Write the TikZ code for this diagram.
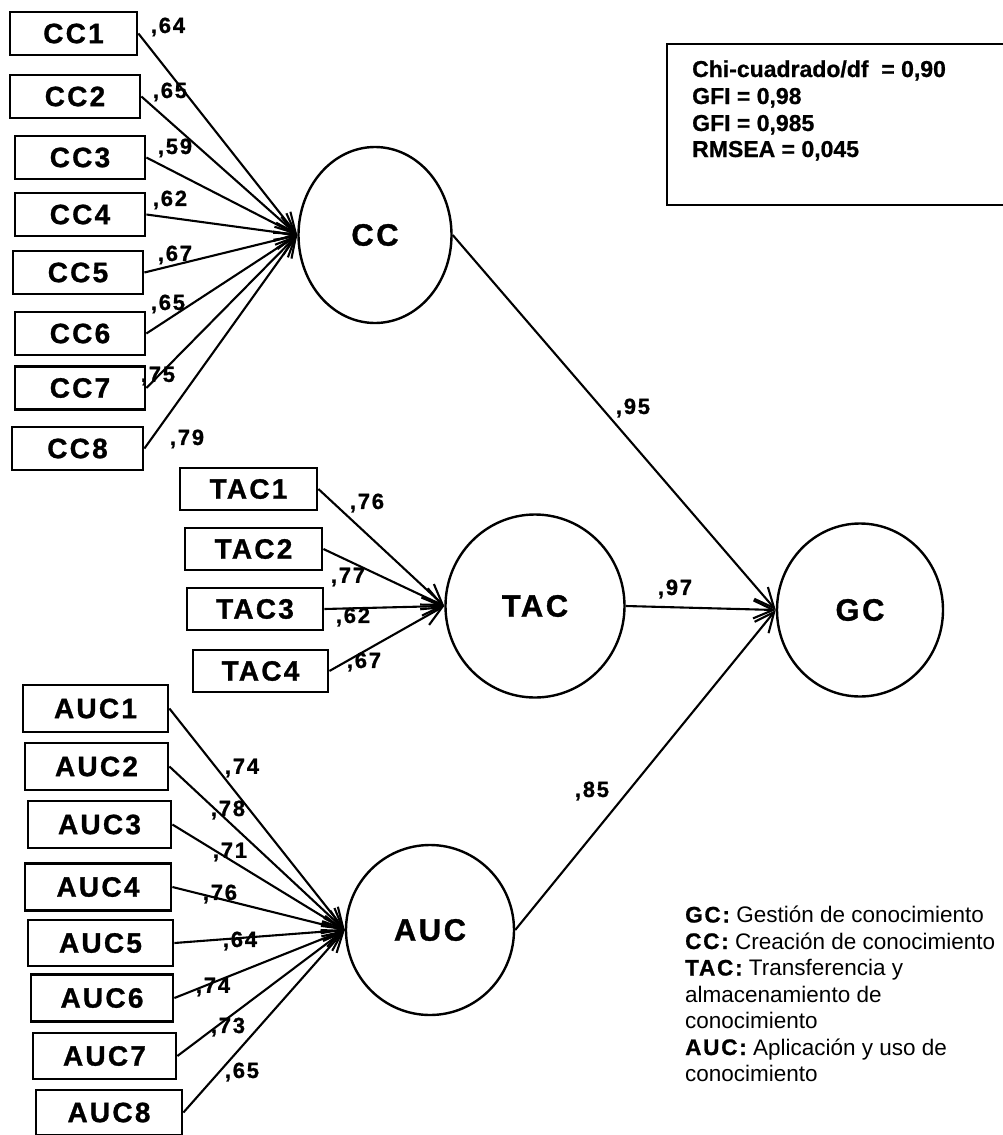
\documentclass[tikz,border=0pt]{standalone}
\usepackage{fontspec}
\setmainfont{Liberation Sans}[BoldFeatures={FakeBold=0.8}]
\newfontfamily\spacedfont{Liberation Sans}[LetterSpace=8,BoldFeatures={FakeBold=1.0}]
\usetikzlibrary{arrows.meta,shapes.geometric}
\begin{document}
\begin{tikzpicture}[x=1pt,y=-1pt,
  ind/.style={draw,line width=2.8pt,minimum height=43pt,inner sep=0pt,
    font=\spacedfont\bfseries\fontsize{28}{30}\selectfont},
  lat/.style={draw,ellipse,line width=2.4pt,inner sep=0pt,
    font=\spacedfont\bfseries\fontsize{31}{33}\selectfont},
  load/.style={inner sep=0pt,font=\spacedfont\bfseries\fontsize{22}{24}\selectfont},
  arr/.style={line width=2.1pt,-{Straight Barb[length=20pt,width=18pt]}},
  stat/.style={inner sep=0pt,anchor=base west,font=\bfseries\fontsize{23}{25}\selectfont},
  leg/.style={inner sep=0pt,anchor=base west,font=\fontsize{22.5}{25}\selectfont}]
\useasboundingbox (0,0) rectangle (1003,1135);

% latent variables
\node[lat,minimum width=153pt,minimum height=176pt] (CC) at (375,235) {CC};
\node[lat,minimum width=179pt,minimum height=183pt] (TAC) at (535,606) {TAC};
\node[lat,minimum width=168pt,minimum height=170pt] (AUC) at (430,930) {AUC};
\node[lat,minimum width=166pt,minimum height=173pt] (GC) at (860,610) {GC};

% CC indicators
\node[ind,minimum width=127pt] (cc1) at (73.5,33.5) {CC1};
\node[ind,minimum width=130pt] (cc2) at (75,96.5) {CC2};
\node[ind,minimum width=130pt] (cc3) at (80,157.5) {CC3};
\node[ind,minimum width=130pt] (cc4) at (80,214.5) {CC4};
\node[ind,minimum width=130pt] (cc5) at (78,272.5) {CC5};
\node[ind,minimum width=130pt] (cc6) at (80,333.5) {CC6};
\node[ind,minimum width=130pt] (cc7) at (80,388) {CC7};
\node[ind,minimum width=131pt] (cc8) at (77.5,448.5) {CC8};

% TAC indicators
\node[ind,minimum width=137pt,minimum height=42pt] (tac1) at (248.5,489) {TAC1};
\node[ind,minimum width=137pt,minimum height=42pt] (tac2) at (253.5,549) {TAC2};
\node[ind,minimum width=136pt,minimum height=42pt] (tac3) at (255,609) {TAC3};
\node[ind,minimum width=135pt,minimum height=42pt] (tac4) at (260.5,671) {TAC4};

% AUC indicators
\node[ind,minimum width=145pt,minimum height=47pt] (auc1) at (95.5,708.5) {AUC1};
\node[ind,minimum width=143pt,minimum height=47pt] (auc2) at (96.5,766.5) {AUC2};
\node[ind,minimum width=143pt,minimum height=47pt] (auc3) at (99.5,824.5) {AUC3};
\node[ind,minimum width=146pt,minimum height=47pt] (auc4) at (98,887) {AUC4};
\node[ind,minimum width=145pt,minimum height=46pt] (auc5) at (100.5,943) {AUC5};
\node[ind,minimum width=142pt,minimum height=47pt] (auc6) at (102,998) {AUC6};
\node[ind,minimum width=143pt,minimum height=46pt] (auc7) at (104.5,1056) {AUC7};
\node[ind,minimum width=146pt,minimum height=45pt] (auc8) at (109,1112.5) {AUC8};

% arrows into latent variables
\foreach \i in {1,...,8} \draw[arr] (cc\i.east) -- (CC.west);
\foreach \i in {1,...,4} \draw[arr] (tac\i.east) -- (TAC.west);
\foreach \i in {1,...,8} \draw[arr] (auc\i.east) -- (AUC.west);

% structural paths
\draw[arr] (CC.east) -- (GC.west);
\draw[arr] (TAC.east) -- (GC.west);
\draw[arr] (AUC.east) -- (GC.west);

% loadings
\node[load] (l1) at (168,27) {,64};
\node[load] (l2) at (170,92) {,65};
\node[load] (l3) at (175,148) {,59};
\node[load] (l4) at (170,200) {,62};
\node[load] (l5) at (175,255) {,67};
\node[load] (l6) at (168,304) {,65};
\node[load] (l7) at (158,376) {,75};
\node[load] (l8) at (187,439) {,79};
\node[load] (t1) at (367,503) {,76};
\node[load] (t2) at (348,577) {,77};
\node[load] (t3) at (353,617) {,62};
\node[load] (t4) at (364,662) {,67};
\node[load] (a1) at (242,768) {,74};
\node[load] (a2) at (228,810) {,78};
\node[load] (a3) at (230,852) {,71};
\node[load] (a4) at (220,894) {,76};
\node[load] (a5) at (240,941) {,64};
\node[load] (a6) at (213,987) {,74};
\node[load] (a7) at (228,1027) {,73};
\node[load] (a8) at (242,1072) {,65};
\node[load] (p1) at (633,408) {,95};
\node[load] (p2) at (675,589) {,97};
\node[load] (p3) at (592,791) {,85};

% fit statistics box (right edge runs off the page)
\node[draw,line width=2.4pt,minimum width=345pt,minimum height=161pt,inner sep=0pt] (stats) at (839.5,124.5) {};
\node[stat] (s1) at (692,77) {Chi-cuadrado/df \ = 0,90};
\node[stat] (s2) at (692,104) {GFI = 0,98};
\node[stat] (s3) at (692,131) {GFI = 0,985};
\node[stat] (s4) at (692,157) {RMSEA = 0,045};

% legend
\node[leg] (g1) at (685,922.5) {{\spacedfont\bfseries GC:} Gestión de conocimiento};
\node[leg] (g2) at (685,949) {{\spacedfont\bfseries CC:} Creación de conocimiento};
\node[leg] (g3) at (685,975.5) {{\spacedfont\bfseries TAC:} Transferencia y};
\node[leg] (g4) at (685,1002) {almacenamiento de};
\node[leg] (g5) at (685,1028.5) {conocimiento};
\node[leg] (g6) at (685,1055) {{\spacedfont\bfseries AUC:} Aplicación y uso de};
\node[leg] (g7) at (685,1081.5) {conocimiento};
\end{tikzpicture}
\end{document}
